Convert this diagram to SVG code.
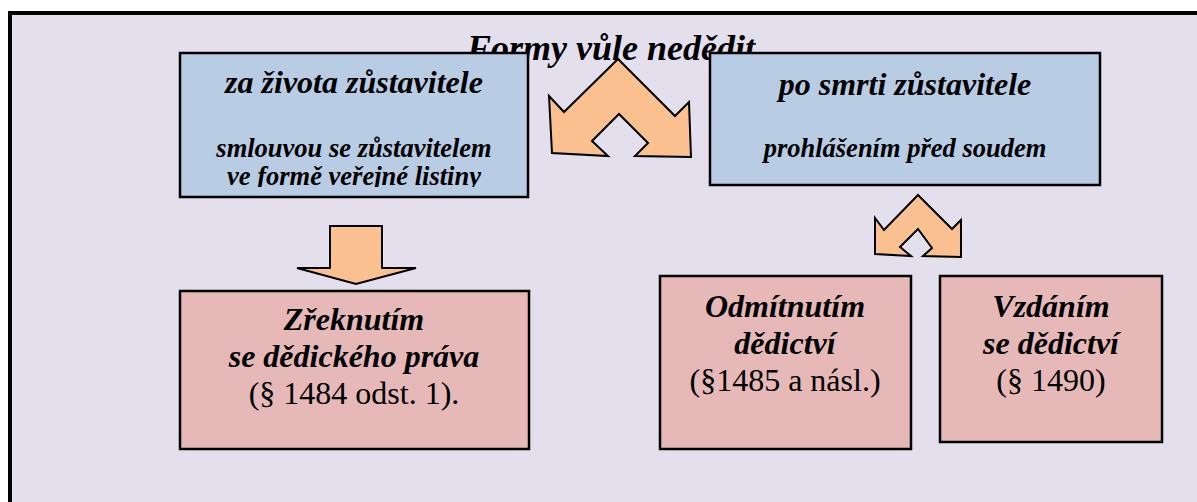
<svg xmlns="http://www.w3.org/2000/svg" width="1197" height="502" viewBox="0 0 1197 502">
  <style>
    text { font-family: "Liberation Serif", "Times New Roman", serif; fill: #000; text-anchor: middle; }
    .bi { font-weight: bold; font-style: italic; }
    .h1 { font-size: 36px; }
    .h2 { font-size: 32px; }
    .h3 { font-size: 26.5px; }
    .reg { font-size: 32px; font-weight: normal; font-style: normal; }
    .blue { fill: #B8CCE4; stroke: #000; stroke-width: 2.5; }
    .pink { fill: #E6B9B8; stroke: #000; stroke-width: 2.5; }
    .arrow { fill: #FAC090; stroke: #000; stroke-width: 2; stroke-linejoin: miter; }
  </style>
  <defs>
    <clipPath id="clip1">
      <rect x="181" y="53" width="347" height="134"/>
    </clipPath>
  </defs>
  <rect x="0" y="0" width="1197" height="502" fill="#FFFFFF"/>
  <rect id="frame" x="10" y="13" width="1200" height="500" fill="#E4DFEC" stroke="#000" stroke-width="4"/>

  <g id="title">
    <text class="bi h1" x="611" y="60">Formy vůle nedědit</text>
  </g>

  <g id="node-zivota">
    <rect class="blue" x="180" y="53" width="348" height="144"/>
    <g clip-path="url(#clip1)">
      <text class="bi h2" x="354" y="93">za života zůstavitele</text>
      <text class="bi h3" x="354" y="157">smlouvou se zůstavitelem</text>
      <text class="bi h3" x="354" y="185">ve formě veřejné listiny</text>
    </g>
  </g>

  <g id="node-smrti">
    <rect class="blue" x="710" y="53" width="390" height="132"/>
    <text class="bi h2" x="905" y="95">po smrti zůstavitele</text>
    <text class="bi h3" x="905" y="157">prohlášením před soudem</text>
  </g>

  <g id="node-zreknutim">
    <rect class="pink" x="180" y="291" width="349" height="158"/>
    <text class="bi h2" x="354" y="330">Zřeknutím</text>
    <text class="bi h2" x="354" y="367">se dědického práva</text>
    <text class="reg" x="354" y="404">(§ 1484 odst. 1).</text>
  </g>

  <g id="node-odmitnutim">
    <rect class="pink" x="660" y="276" width="251" height="173"/>
    <text class="bi h2" x="785" y="317">Odmítnutím</text>
    <text class="bi h2" x="785" y="354">dědictví</text>
    <text class="reg" x="785" y="391">(§1485 a násl.)</text>
  </g>

  <g id="node-vzdanim">
    <rect class="pink" x="940" y="276" width="222" height="166"/>
    <text class="bi h2" x="1051" y="317">Vzdáním</text>
    <text class="bi h2" x="1051" y="354">se dědictví</text>
    <text class="reg" x="1051" y="391">(§ 1490)</text>
  </g>

  <g id="connectors">
    <polygon class="arrow" points="618,59 675,116 689,102 691,157 635,156 648,143 619,114 592,141 608,156 552,153 549,96 564,112"/>
    <polygon class="arrow" points="918,195 952,229 961,220 961,257 923,256 932,248 918,229 900,247 911,256 875,254 875,218 884,230"/>
    <polygon class="arrow" points="330,226 382,226 382,268 416,268 356,284 297,268 330,268"/>
  </g>
</svg>
